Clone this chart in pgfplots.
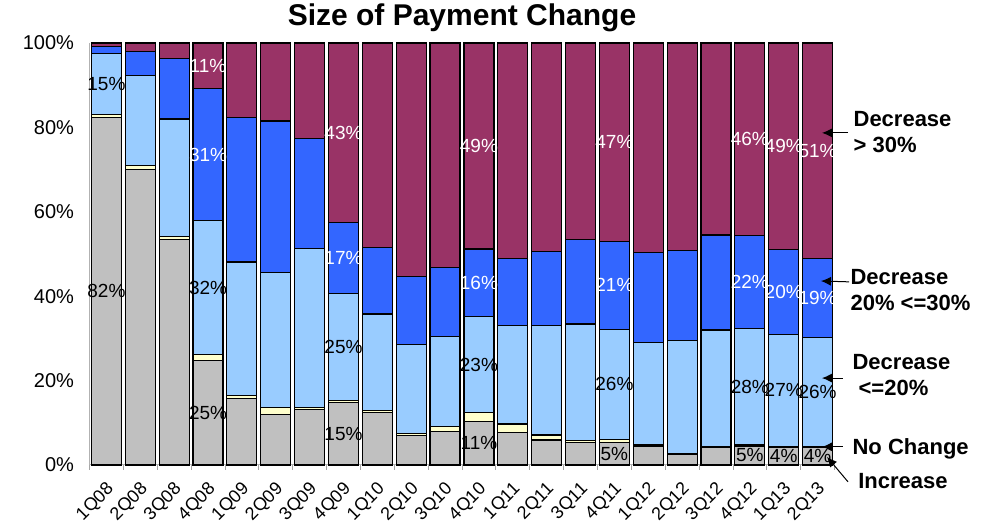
\documentclass[border=0pt]{standalone}
\usepackage{pgfplots}
\pgfplotsset{compat=1.18}
\usepackage{pgfplotstable}
\usetikzlibrary{arrows.meta}
\usepackage{fontspec}
\setmainfont{Liberation Sans}
\definecolor{cInc}{HTML}{C0C0C0}
\definecolor{cNC}{HTML}{FFFFCC}
\definecolor{cDa}{HTML}{99CCFF}
\definecolor{cDb}{HTML}{3366FF}
\definecolor{cDc}{HTML}{993366}

\pgfplotstableread{
x inc nc d20 d30 d31
0 82.4 0.6 14.5 1.6 0.9
1 70.0 0.9 21.4 5.6 2.1
2 53.4 0.8 27.8 14.4 3.6
3 24.7 1.4 31.8 31.3 10.8
4 15.8 0.6 31.7 34.3 17.6
5 12.0 1.7 31.9 35.9 18.5
6 13.2 0.4 37.7 26.0 22.7
7 14.9 0.4 25.3 16.8 42.6
8 12.4 0.5 22.9 15.8 48.4
9 6.9 0.6 21.0 16.2 55.3
10 7.9 1.3 21.2 16.4 53.2
11 10.4 2.0 22.8 16.0 48.8
12 7.7 2.0 23.3 16.0 51.0
13 5.9 1.2 25.9 17.6 49.4
14 5.3 0.5 27.6 20.0 46.6
15 5.4 0.7 26.1 20.8 47.0
16 4.5 0.3 24.2 21.4 49.6
17 2.5 0.3 26.7 21.3 49.2
18 4.1 0.3 27.6 22.5 45.5
19 4.5 0.3 27.6 22.0 45.6
20 4.1 0.3 26.6 20.0 49.0
21 4.1 0.3 25.9 18.7 51.0
}\data

\pgfplotstableread{
x y v
0 41.2 82
0 90.25 15
3 12.35 25
3 42.0 32
7 7.45 15
7 27.95 25
11 5.2 11
11 23.8 23
15 2.7 5
15 19.15 26
19 2.25 5
19 18.6 28
20 2.05 4
20 17.7 27
21 2.05 4
21 17.35 26
}\labdark

\pgfplotstableread{
x y v
3 73.55 31
3 94.6 11
7 49.0 17
7 78.7 43
11 43.2 16
11 75.6 49
15 42.6 21
15 76.5 47
19 43.4 22
19 77.2 46
20 41.0 20
20 75.5 49
21 39.65 19
21 74.5 51
}\labwhite

\pgfplotsset{
  /pgf/number format/assume math mode=true,
  base/.style={
    at={(0,0)}, anchor=south west,
    scale only axis, width=745pt, height=422pt,
    xmin=-0.5, xmax=21.5, ymin=0, ymax=100,
    clip=false,
  },
}
\tikzset{
  ann/.style={font=\fontsize{22}{26}\selectfont\bfseries, anchor=west, align=left},
  arr/.style={line width=1pt, -{Latex[length=10pt,width=9pt]}},
}

\begin{document}
\begin{tikzpicture}
\useasboundingbox (-89.5pt,-64pt) rectangle (901.5pt,465pt);
\begin{axis}[
  base,
  ybar stacked, bar width=30pt,
  xtick={0,...,21},
  xticklabels={1Q08,2Q08,3Q08,4Q08,1Q09,2Q09,3Q09,4Q09,1Q10,2Q10,3Q10,4Q10,1Q11,2Q11,3Q11,4Q11,1Q12,2Q12,3Q12,4Q12,1Q13,2Q13},
  minor xtick={-0.5,0.5,...,21.5},
  major tick length=0pt, minor tick length=5pt,
  tick align=outside,
  tick style={gray!70, line width=0.8pt},
  ytick={0,20,40,60,80,100},
  yticklabels={0\%,20\%,40\%,60\%,80\%,100\%},
  axis x line*=bottom, axis y line*=left,
  axis line style={gray!60, line width=1pt},
  xticklabel style={xshift=-1pt, yshift=-11pt, rotate=45, anchor=north east, font=\fontsize{18}{21}\selectfont},
  yticklabel style={font=\fontsize{20}{24}\selectfont, xshift=-12pt},
  title={Size of Payment Change},
  title style={font=\fontsize{30}{34}\selectfont\bfseries, at={(0.5,1)}, anchor=base, yshift=11pt},
]
\addplot[fill=cInc, draw=black, line width=1.2pt] table[x=x,y=inc]{\data};
\addplot[fill=cNC, draw=black, line width=1.2pt] table[x=x,y=nc]{\data};
\addplot[fill=cDa, draw=black, line width=1.2pt] table[x=x,y=d20]{\data};
\addplot[fill=cDb, draw=black, line width=1.2pt] table[x=x,y=d30]{\data};
\addplot[fill=cDc, draw=black, line width=1.2pt] table[x=x,y=d31]{\data};
\end{axis}

\begin{axis}[
  base, hide axis,
  point meta=explicit,
  nodes near coords={\pgfmathprintnumber[fixed,precision=0]{\pgfplotspointmeta}\%},
  nodes near coords align={center},
  every node near coord/.append style={anchor=center, font=\fontsize{19}{22}\selectfont, inner sep=0pt},
]
\addplot[only marks, mark=none, every node near coord/.append style={text=black}] table[x=x,y=y,meta=v]{\labdark};
\addplot[only marks, mark=none, every node near coord/.append style={text=white}] table[x=x,y=y,meta=v]{\labwhite};
\node[ann] at (axis cs:21.96,78.8) {Decrease\\> 30\%};
\node[ann] at (axis cs:21.87,41.5) {Decrease\\20\% <=30\%};
\node[ann] at (axis cs:21.93,21.4) {Decrease\\\hspace*{6pt}<=20\%};
\node[ann] at (axis cs:21.93,3.9) {No Change};
\node[ann] at (axis cs:22.1,-3.9) {Increase};
\draw[arr] (axis cs:21.90,78.7) -- (axis cs:21.13,78.7);
\draw[arr] (axis cs:21.93,43.4) -- (axis cs:21.10,43.6);
\draw[arr] (axis cs:21.75,20.6) -- (axis cs:21.13,20.6);
\draw[arr] (axis cs:21.75,4.3) -- (axis cs:21.13,4.3);
\draw[arr] (axis cs:21.90,-4.0) -- (axis cs:21.28,1.9);
\end{axis}
\end{tikzpicture}
\end{document}
